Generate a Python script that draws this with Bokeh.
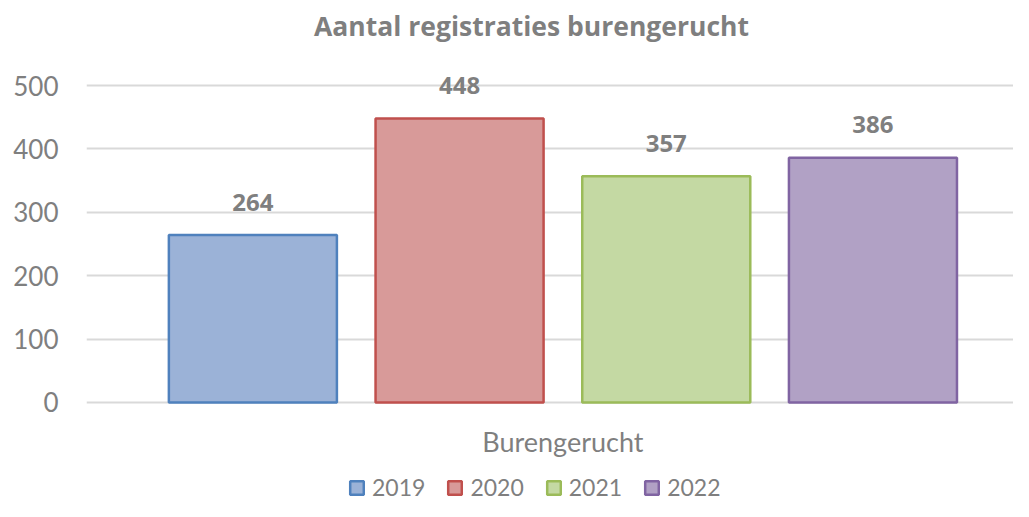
from bokeh.plotting import figure
from bokeh.models import ColumnDataSource, FixedTicker, Range1d, Label
from bokeh.embed import file_html
from bokeh.resources import INLINE
from bokeh.core.properties import value

# ---- data ----
years = ["2019", "2020", "2021", "2022"]
counts = [264, 448, 357, 386]
positions = [1, 2, 3, 4]
category = "Burengerucht"
title_text = "Aantal registraties burengerucht"
yticks = [0, 100, 200, 300, 400, 500]
fills = ["#9bb2d7", "#d89a99", "#c4d9a3", "#b1a1c5"]
borders = ["#4f81bd", "#c0504d", "#9bbb59", "#8064a2"]

FONT = "Lato"
BFONT = "Open Sans"
GRAY = "#7f7f7f"

src = ColumnDataSource(dict(x=positions, y=counts, year=years, fill=fills,
                            line=borders, lbl=[str(c) for c in counts]))

p = figure(width=1013, height=501, output_backend="svg", toolbar_location=None,
           x_range=Range1d(0.195, 4.680), y_range=Range1d(-156.2, 634.1),
           min_border_left=86, min_border_right=0, min_border_top=0,
           min_border_bottom=0, title=None)
p.outline_line_color = None
p.background_fill_color = "white"
p.border_fill_color = "white"

p.vbar(x="x", top="y", bottom=0, width=0.813, source=src,
       fill_color="fill", line_color="line", line_width=2.5,
       legend_field="year")

p.text(x="x", y="y", text="lbl", source=src, text_align="center",
       text_baseline="alphabetic", y_offset=-33,
       text_font=value(BFONT), text_font_style="bold",
       text_font_size="24px", text_color=GRAY)

# grid
p.xgrid.visible = False
p.ygrid.ticker = FixedTicker(ticks=yticks)
p.ygrid.grid_line_color = "#d9d9d9"
p.ygrid.grid_line_width = 2

# y axis
p.yaxis.ticker = FixedTicker(ticks=yticks)
p.yaxis.axis_line_color = None
p.yaxis.major_tick_line_color = None
p.yaxis.minor_tick_line_color = None
p.yaxis.major_label_standoff = 22
p.yaxis.major_label_text_font = FONT
p.yaxis.major_label_text_font_size = "26px"
p.yaxis.major_label_text_color = GRAY

# x axis hidden; category label drawn under the bars
p.xaxis.visible = False
p.add_layout(Label(x=sum(positions) / len(positions), y=0, y_offset=-23,
                   text=category, text_align="center", text_baseline="top",
                   text_font=FONT, text_font_size="27px", text_color=GRAY))

# chart title (inside the frame area, top of the canvas)
p.add_layout(Label(x=445, y=476, x_units="screen", y_units="screen",
                   text=title_text, text_align="center", text_baseline="middle",
                   text_font=BFONT, text_font_style="bold",
                   text_font_size="26.5px", text_color=GRAY))

# legend
lg = p.legend[0]
lg.orientation = "horizontal"
lg.location = (262, 0)
lg.padding = 0
lg.margin = 0
lg.spacing = 21
lg.label_standoff = 7
lg.glyph_width = 17
lg.glyph_height = 17
lg.border_line_color = None
lg.background_fill_alpha = 0
lg.label_text_font = FONT
lg.label_text_font_size = "23px"
lg.label_text_color = GRAY

open("out.html", "w").write(file_html(p, INLINE))
